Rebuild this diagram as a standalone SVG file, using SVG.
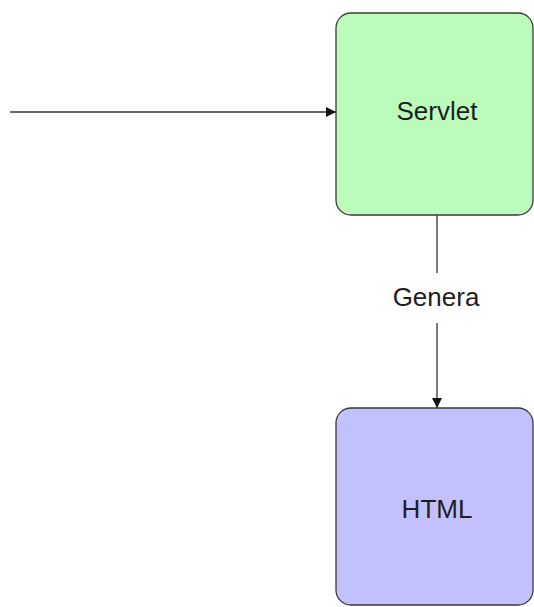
<svg xmlns="http://www.w3.org/2000/svg" width="534" height="607" viewBox="0 0 534 607">
<style>
.node{stroke:#3a3a3a;stroke-width:1.3}
.lbl{font-family:"Liberation Sans",Arial,sans-serif;font-size:26px;fill:#1e1e1e;text-anchor:middle}
.edge{stroke:#333;stroke-width:1.3;fill:none}
</style>
<defs>
<marker id="arr" viewBox="0 0 10 10" refX="10" refY="5" markerWidth="10" markerHeight="10" markerUnits="userSpaceOnUse" orient="auto">
<path d="M0,0 L10,5 L0,10 Z" fill="#111"/>
</marker>
</defs>
<rect width="534" height="607" fill="#fff"/>
<g id="connectors">
<line class="edge" x1="10" y1="112" x2="336" y2="112" marker-end="url(#arr)"/>
<line class="edge" x1="437" y1="215" x2="437" y2="273"/>
<line class="edge" x1="437" y1="323" x2="437" y2="408" marker-end="url(#arr)"/>
<text class="lbl" x="436" y="306">Genera</text>
</g>
<g id="servlet">
<rect class="node" x="336" y="13" width="197" height="202" rx="15" fill="#bcfcbb"/>
<text class="lbl" x="437" y="120">Servlet</text>
</g>
<g id="html">
<rect class="node" x="336" y="408" width="197" height="197" rx="15" fill="#c2c1fd"/>
<text class="lbl" x="437" y="518">HTML</text>
</g>
</svg>
